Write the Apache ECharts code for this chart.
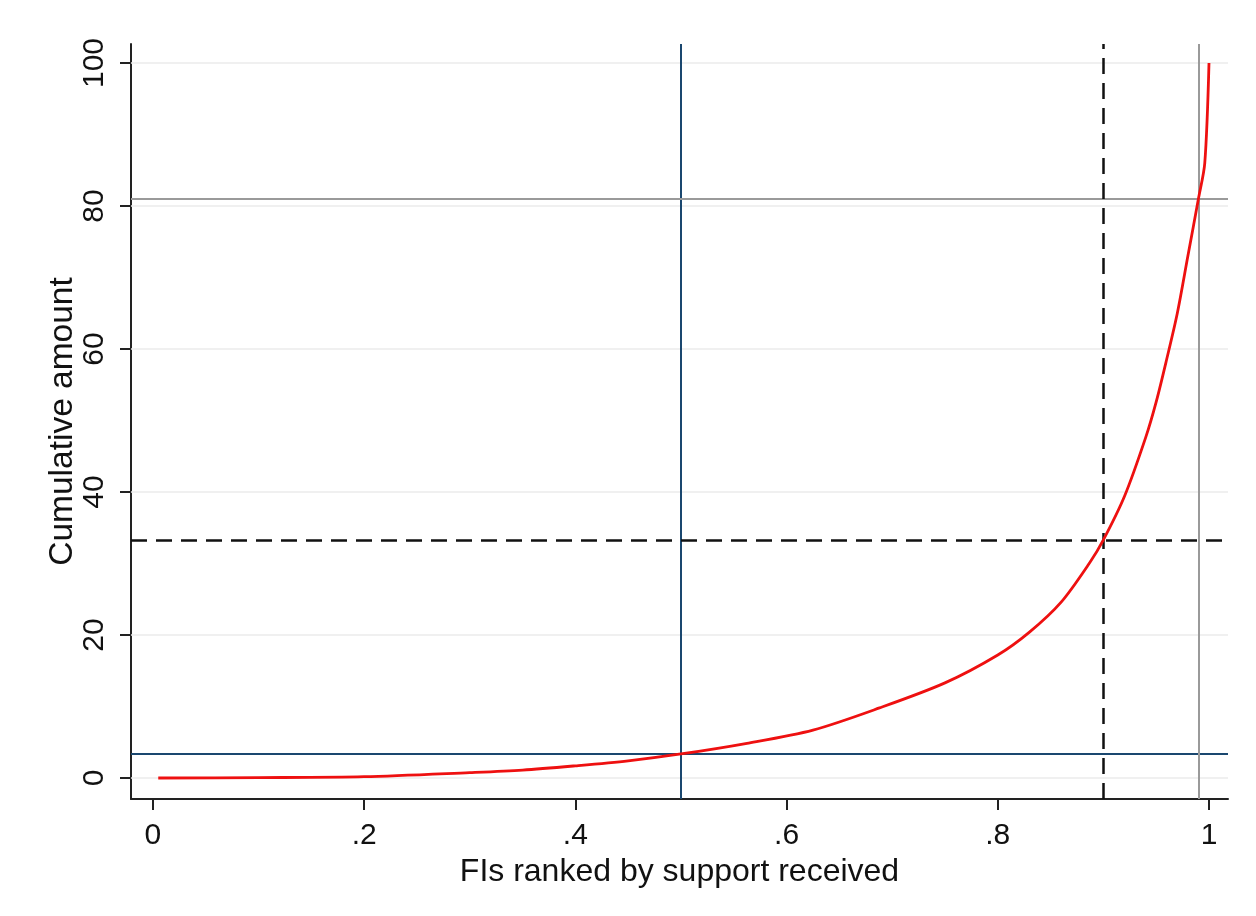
<!DOCTYPE html>
<html>
<head>
<meta charset="utf-8">
<script src="https://cdn.jsdelivr.net/npm/echarts@6/dist/echarts.min.js"></script>
<style>
html,body{margin:0;padding:0;background:#fff;}
#chart{width:1256px;height:916px;}
</style>
</head>
<body>
<div id="chart"></div>
<script>
// Data
const rankShare = [0.005, 0.1, 0.2, 0.3, 0.35, 0.4, 0.45, 0.5, 0.5625, 0.625, 0.688, 0.75, 0.8, 0.83, 0.86, 0.887, 0.9, 0.92, 0.94, 0.95, 0.96, 0.97, 0.98, 0.99, 0.996, 1.0];
const cumAmount = [0, 0.05, 0.18, 0.75, 1.1, 1.7, 2.4, 3.36, 4.85, 6.7, 9.8, 13.3, 17.2, 20.4, 24.6, 30.1, 33.3, 39.4, 47.6, 52.6, 58.6, 65.0, 73, 81, 86, 100];
const xTicks = [0, 0.2, 0.4, 0.6, 0.8, 1];
const xTickLabels = ['0', '.2', '.4', '.6', '.8', '1'];
const yTicks = [0, 20, 40, 60, 80, 100];
// Reference lines
const blueX = 0.5, blueY = 3.36;
const dashX = 0.9, dashY = 33.3;
const greyX = 0.99, greyY = 81;

const chart = echarts.init(document.getElementById('chart'));
const font = 'Liberation Sans, Arial, sans-serif';
const curve = rankShare.map((x, i) => [x, cumAmount[i]]);

const gridLines = yTicks.map(v => ({ yAxis: v, lineStyle: { color: '#ebebeb', width: 1.5, type: 'solid' } }));

chart.setOption({
  animation: false,
  backgroundColor: '#ffffff',
  grid: { left: 131, right: 28, top: 44, bottom: 117 },
  xAxis: {
    type: 'value', min: -0.0208, max: 1.018,
    name: 'FIs ranked by support received', nameLocation: 'middle', nameGap: 57, nameMoveOverlap: false,
    nameTextStyle: { fontFamily: font, fontSize: 32, color: '#111' },
    axisLine: { show: true, onZero: false, lineStyle: { color: '#222', width: 2 } },
    axisTick: { show: true, customValues: xTicks, length: 11, lineStyle: { color: '#222', width: 2 } },
    axisLabel: { customValues: xTicks, margin: 22, fontFamily: font, fontSize: 30, color: '#111',
      formatter: v => { const i = xTicks.findIndex(t => Math.abs(t - v) < 1e-9); return i >= 0 ? xTickLabels[i] : ''; } },
    splitLine: { show: false }
  },
  yAxis: {
    type: 'value', min: -2.94, max: 102.66,
    name: 'Cumulative amount', nameLocation: 'middle', nameGap: 51, nameRotate: 90, nameMoveOverlap: false,
    nameTextStyle: { fontFamily: font, fontSize: 33.5, color: '#111' },
    axisLine: { show: true, onZero: false, lineStyle: { color: '#222', width: 2 } },
    axisTick: { show: true, customValues: yTicks, length: 11, lineStyle: { color: '#222', width: 2 } },
    axisLabel: { customValues: yTicks, rotate: 90, margin: 21, fontFamily: font, fontSize: 30, color: '#111' },
    splitLine: { show: false }
  },
  series: [
    {
      type: 'line', data: [], silent: true,
      markLine: { symbol: 'none', silent: true, label: { show: false }, data: gridLines }
    },
    {
      type: 'line', data: [], silent: true, z: 3,
      markLine: {
        symbol: 'none', silent: true, label: { show: false },
        data: [
          { xAxis: blueX, lineStyle: { color: '#1a476f', width: 2, type: 'solid' } },
          { yAxis: blueY, lineStyle: { color: '#1a476f', width: 2, type: 'solid' } },
          { xAxis: greyX, lineStyle: { color: '#9a9a9a', width: 2, type: 'solid' } },
          { yAxis: greyY, lineStyle: { color: '#9a9a9a', width: 2, type: 'solid' } },
          { xAxis: dashX, lineStyle: { color: '#111', width: 2.5, type: [16, 9] } },
          { yAxis: dashY, lineStyle: { color: '#111', width: 2.5, type: [16, 9] } }
        ]
      }
    },
    {
      type: 'line', data: curve, smooth: 0.3, showSymbol: false, z: 5,
      lineStyle: { color: '#ee1010', width: 2.8 }
    }
  ]
});
</script>
</body>
</html>
